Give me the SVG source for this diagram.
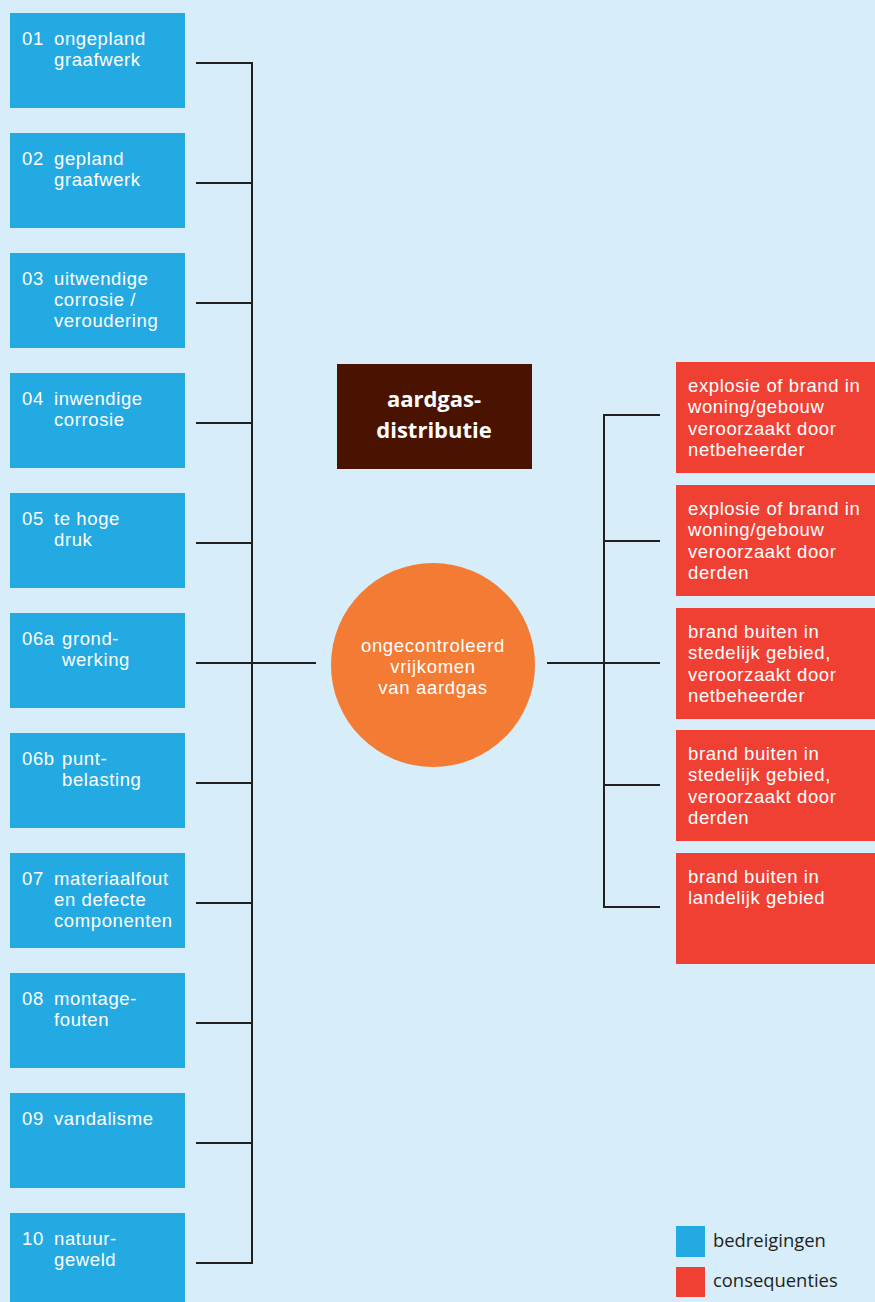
<svg xmlns="http://www.w3.org/2000/svg" width="875" height="1302" viewBox="0 0 875 1302">
<style>
.bg{fill:#d7edf9}
.threat{fill:#24aae2}
.cons{fill:#f04034}
.t{font-family:"Liberation Sans",Arial,sans-serif;font-size:18.5px;letter-spacing:0.6px;fill:#ffffff}
.ti{font-family:"Open Sans","Noto Sans",sans-serif;font-size:22px;font-weight:bold;fill:#ffffff}
.ci{font-family:"Liberation Sans",Arial,sans-serif;font-size:18.5px;letter-spacing:0.7px;fill:#ffffff}
.lg{font-family:"Open Sans","Noto Sans",sans-serif;font-size:18.4px;fill:#231f20}
.c{stroke:#231f20;stroke-width:2;fill:none}
</style>
<rect class="bg" x="0" y="0" width="875" height="1302"/>
<g id="connectors">
<path class="c" d="M196 63H252V1263H196M196 183H252M196 303H252M196 423H252M196 543H252M196 663H316M196 783H252M196 903H252M196 1023H252M196 1143H252"/>
<path class="c" d="M547 663H604M660 415H604V907H660M604 541H660M604 663H660M604 785H660"/>
</g>
<g id="n01"><rect class="threat" x="10" y="13" width="175" height="95"/><text class="t"><tspan x="22" y="45">01</tspan><tspan x="54" y="45">ongepland</tspan><tspan x="54" y="66">graafwerk</tspan></text></g>
<g id="n02"><rect class="threat" x="10" y="133" width="175" height="95"/><text class="t"><tspan x="22" y="165">02</tspan><tspan x="54" y="165">gepland</tspan><tspan x="54" y="186">graafwerk</tspan></text></g>
<g id="n03"><rect class="threat" x="10" y="253" width="175" height="95"/><text class="t"><tspan x="22" y="285">03</tspan><tspan x="54" y="285">uitwendige</tspan><tspan x="54" y="306">corrosie /</tspan><tspan x="54" y="327">veroudering</tspan></text></g>
<g id="n04"><rect class="threat" x="10" y="373" width="175" height="95"/><text class="t"><tspan x="22" y="405">04</tspan><tspan x="54" y="405">inwendige</tspan><tspan x="54" y="426">corrosie</tspan></text></g>
<g id="n05"><rect class="threat" x="10" y="493" width="175" height="95"/><text class="t"><tspan x="22" y="525">05</tspan><tspan x="54" y="525">te hoge</tspan><tspan x="54" y="546">druk</tspan></text></g>
<g id="n06a"><rect class="threat" x="10" y="613" width="175" height="95"/><text class="t"><tspan x="22" y="645">06a</tspan><tspan x="62" y="645">grond-</tspan><tspan x="62" y="666">werking</tspan></text></g>
<g id="n06b"><rect class="threat" x="10" y="733" width="175" height="95"/><text class="t"><tspan x="22" y="765">06b</tspan><tspan x="62" y="765">punt-</tspan><tspan x="62" y="786">belasting</tspan></text></g>
<g id="n07"><rect class="threat" x="10" y="853" width="175" height="95"/><text class="t"><tspan x="22" y="885">07</tspan><tspan x="54" y="885">materiaalfout</tspan><tspan x="54" y="906">en defecte</tspan><tspan x="54" y="927">componenten</tspan></text></g>
<g id="n08"><rect class="threat" x="10" y="973" width="175" height="95"/><text class="t"><tspan x="22" y="1005">08</tspan><tspan x="54" y="1005">montage-</tspan><tspan x="54" y="1026">fouten</tspan></text></g>
<g id="n09"><rect class="threat" x="10" y="1093" width="175" height="95"/><text class="t"><tspan x="22" y="1125">09</tspan><tspan x="54" y="1125">vandalisme</tspan></text></g>
<g id="n10"><rect class="threat" x="10" y="1213" width="175" height="95"/><text class="t"><tspan x="22" y="1245">10</tspan><tspan x="54" y="1245">natuur-</tspan><tspan x="54" y="1266">geweld</tspan></text></g>
<g id="title"><rect x="337" y="364" width="195" height="105" fill="#4a1200"/><text class="ti" text-anchor="middle"><tspan x="434" y="407">aardgas-</tspan><tspan x="434" y="438">distributie</tspan></text></g>
<g id="event"><circle cx="433" cy="665" r="102" fill="#f47b33"/><text class="ci" text-anchor="middle"><tspan x="433" y="652">ongecontroleerd</tspan><tspan x="433" y="673">vrijkomen</tspan><tspan x="433" y="694">van aardgas</tspan></text></g>
<g id="c1"><rect class="cons" x="676" y="362" width="199" height="111"/><text class="t"><tspan x="688" y="392">explosie of brand in</tspan><tspan x="688" y="413">woning/gebouw</tspan><tspan x="688" y="435">veroorzaakt door</tspan><tspan x="688" y="456">netbeheerder</tspan></text></g>
<g id="c2"><rect class="cons" x="676" y="485" width="199" height="111"/><text class="t"><tspan x="688" y="515">explosie of brand in</tspan><tspan x="688" y="536">woning/gebouw</tspan><tspan x="688" y="558">veroorzaakt door</tspan><tspan x="688" y="579">derden</tspan></text></g>
<g id="c3"><rect class="cons" x="676" y="608" width="199" height="111"/><text class="t"><tspan x="688" y="638">brand buiten in</tspan><tspan x="688" y="659">stedelijk gebied,</tspan><tspan x="688" y="681">veroorzaakt door</tspan><tspan x="688" y="702">netbeheerder</tspan></text></g>
<g id="c4"><rect class="cons" x="676" y="730" width="199" height="111"/><text class="t"><tspan x="688" y="760">brand buiten in</tspan><tspan x="688" y="781">stedelijk gebied,</tspan><tspan x="688" y="803">veroorzaakt door</tspan><tspan x="688" y="824">derden</tspan></text></g>
<g id="c5"><rect class="cons" x="676" y="853" width="199" height="111"/><text class="t"><tspan x="688" y="883">brand buiten in</tspan><tspan x="688" y="904">landelijk gebied</tspan></text></g>
<g id="legend"><rect class="threat" x="676" y="1226" width="29" height="31"/><text class="lg" x="713" y="1247">bedreigingen</text><rect class="cons" x="676" y="1267" width="29" height="30"/><text class="lg" x="713" y="1287">consequenties</text></g>
</svg>
